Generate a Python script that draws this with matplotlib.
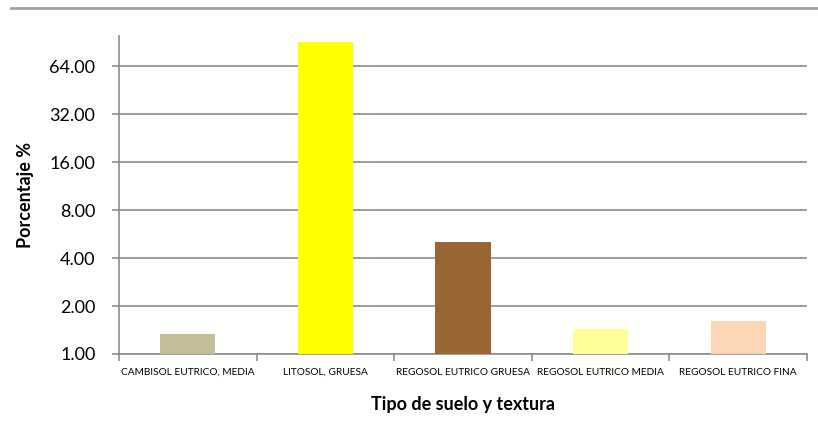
import matplotlib.pyplot as plt
from matplotlib.ticker import FixedLocator, NullLocator
from matplotlib.lines import Line2D

categorias = ["CAMBISOL EUTRICO, MEDIA", "LITOSOL, GRUESA", "REGOSOL EUTRICO GRUESA",
              "REGOSOL EUTRICO MEDIA", "REGOSOL EUTRICO FINA"]
porcentaje = [1.34, 90.8, 5.06, 1.44, 1.61]
colores = ["#c4bd97", "#ffff00", "#996633", "#ffff99", "#fcd5b4"]
y_ticks = [1, 2, 4, 8, 16, 32, 64]
y_ticklabels = ["1.00", "2.00", "4.00", "8.00", "16.00", "32.00", "64.00"]

plt.rcParams['font.family'] = ['Lato', 'DejaVu Sans']

fig = plt.figure(figsize=(8.18, 4.4), dpi=100)
ax = fig.add_axes([0.1455, 0.1955, 0.841, 0.7225])

x = list(range(len(categorias)))
ax.bar(x, porcentaje, width=0.4, color=colores, zorder=3)

ax.set_yscale('log', base=2)
ax.set_ylim(1, 99)
ax.set_xlim(-0.5, len(categorias) - 0.5)
ax.yaxis.set_major_locator(FixedLocator(y_ticks))
ax.yaxis.set_minor_locator(NullLocator())
ax.set_yticklabels(y_ticklabels, fontsize=13)
ax.grid(axis='y', color='#8c8c8c', linewidth=1.2, zorder=0)

# category labels, ticks at boundaries
ax.set_xticks(x)
ax.set_xticklabels(categorias, fontsize=7.3)
ax.tick_params(axis='x', length=0, pad=10)
ax.set_xticks([i - 0.5 for i in range(len(categorias) + 1)], minor=True)
ax.tick_params(axis='x', which='minor', length=5, color='#8c8c8c', width=1.2)
ax.tick_params(axis='y', length=5, color='#8c8c8c', width=1.2, pad=12)

for side in ['top', 'right']:
    ax.spines[side].set_visible(False)
for side in ['left', 'bottom']:
    ax.spines[side].set_color('#8c8c8c')
    ax.spines[side].set_linewidth(1.2)

ax.set_ylabel("Porcentaje %", fontsize=13, fontweight='bold', labelpad=11)
ax.set_xlabel("Tipo de suelo y textura", fontsize=13, fontweight='bold', labelpad=14)

# thin line across the top of the picture
fig.add_artist(Line2D([0.013, 1.0], [0.981, 0.981], color='#a0a0a0', linewidth=2,
                      transform=fig.transFigure))

plt.savefig('out.png', dpi=100)
